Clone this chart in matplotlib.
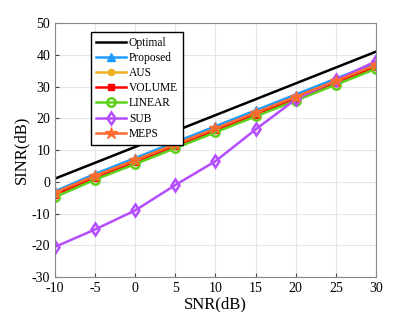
import numpy as np
import matplotlib.pyplot as plt

plt.rcParams['font.family'] = ['Liberation Serif', 'DejaVu Serif']
plt.rcParams['axes.unicode_minus'] = False

snr = [-10, -5, 0, 5, 10, 15, 20, 25, 30]

optimal = [1, 6, 11, 16, 21, 26, 31, 36, 41]
proposed = [-3, 2.5, 7.5, 12.5, 17.5, 22.5, 27.5, 32.5, 37.5]
aus = [-3.5, 1.8, 6.8, 11.8, 16.6, 21.6, 26.7, 31.6, 36.6]
volume = [-4, 1.3, 6.2, 11.2, 16.2, 21.2, 26.2, 31.2, 36.2]
linear = [-4.8, 0.7, 5.6, 10.6, 15.6, 20.6, 25.6, 30.6, 35.6]
sub = [-20.5, -15, -9, -1, 6.5, 16.5, 26, 32, 38]
meps = [-3.4, 1.9, 6.8, 11.8, 16.8, 21.8, 26.8, 31.8, 36.8]

fig = plt.figure(figsize=(4.15, 3.12), dpi=100)
ax = fig.add_axes([0.1325, 0.112, 0.7735, 0.814])

lw = 1.8
ax.plot(snr, optimal, '-', color='black', lw=lw, label='Optimal')
ax.plot(snr, proposed, '-^', color='#1E9BFF', lw=lw, ms=6, label='Proposed')
ax.plot(snr, aus, '-o', color='#EDB120', lw=lw, ms=4.5, label='AUS')
ax.plot(snr, volume, '-s', color='#FF0000', lw=lw, ms=4.5, label='VOLUME')
ax.plot(snr, linear, '-o', color='#5CD11A', lw=lw, ms=6, mfc='none', mew=1.8, label='LINEAR')
ax.plot(snr, sub, '-d', color='#B54DFF', lw=lw, ms=6, mfc='none', mew=1.8, label='SUB')
ax.plot(snr, meps, '-*', color='#FF6A2E', lw=lw, ms=9, label='MEPS')

ax.set_xlim(-10, 30)
ax.set_ylim(-30, 50)
ax.set_xticks(np.arange(-10, 31, 5))
ax.set_yticks(np.arange(-30, 51, 10))
ax.grid(True, color='#e6e6e6', lw=0.8)
ax.set_axisbelow(True)
ax.tick_params(direction='in', labelsize=10, length=3, color='#444444')
for s in ax.spines.values():
    s.set_color('#888888')
ax.set_xlabel('SNR(dB)', fontsize=12, labelpad=1)
ax.set_ylabel('SINR(dB)', fontsize=12, labelpad=2)

ax.legend(loc='upper left', bbox_to_anchor=(0.112, 0.965), borderaxespad=0,
          fontsize=8.3, fancybox=False, edgecolor='black', framealpha=1,
          handlelength=2.6, handletextpad=0.3, labelspacing=0.28, borderpad=0.4)

fig.savefig('out.png', dpi=100)
